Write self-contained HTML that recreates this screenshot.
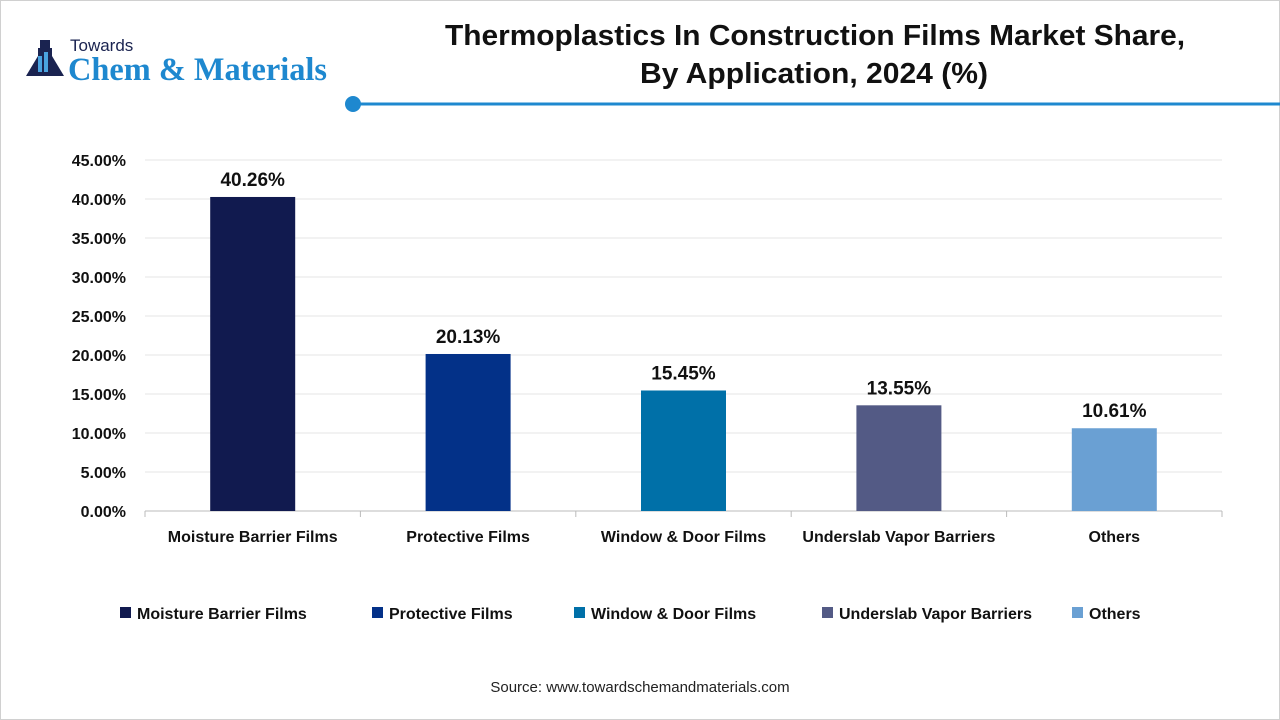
<!DOCTYPE html>
<html><head><meta charset="utf-8"><style>
body{margin:0;width:1280px;height:720px;background:#fff;font-family:"Liberation Sans",sans-serif;overflow:hidden}
#frame{position:absolute;left:0;top:0;width:1278px;height:718px;border:1px solid #d0d0d0}
</style></head><body>
<div id="frame"></div>
<svg width="1280" height="720" style="position:absolute;left:0;top:0" id="svg">
<g>
<rect x="40" y="40" width="10" height="8" fill="#1a2350"/>
<path d="M38 48 h14 v8 l12 20 h-38 l12 -20z" fill="#1a2350"/>
<rect x="38" y="56" width="4" height="16" fill="#4aa3df"/>
<rect x="44" y="52" width="4" height="20" fill="#4aa3df"/>
<text x="70" y="51" font-size="17" fill="#1a2350">Towards</text>
<text x="68" y="80" font-size="33" font-family="Liberation Serif,serif" font-weight="bold" fill="#1e88cf" textLength="259" lengthAdjust="spacingAndGlyphs">Chem &amp; Materials</text>
</g>
<text x="815" y="45" font-size="29" font-weight="bold" text-anchor="middle" fill="#111" textLength="740" lengthAdjust="spacingAndGlyphs">Thermoplastics In Construction Films Market Share,</text>
<text x="814" y="83" font-size="29" font-weight="bold" text-anchor="middle" fill="#111" textLength="348" lengthAdjust="spacingAndGlyphs">By Application, 2024 (%)</text>
<circle cx="353" cy="104" r="8" fill="#1e88cf"/>
<rect x="353" y="102.5" width="927" height="3" fill="#1e88cf"/>
<g id="grid"></g><g id="bars"></g><g id="legend"></g>
<text x="640" y="692" font-size="15" text-anchor="middle" fill="#222">Source: www.towardschemandmaterials.com</text>
</svg>
<script>
const categories=["Moisture Barrier Films","Protective Films","Window & Door Films","Underslab Vapor Barriers","Others"];
const values=[40.26,20.13,15.45,13.55,10.61];
const colors=["#111a4f","#033188","#0070a8","#535a85","#6aa0d3"];
const ticks=[0,5,10,15,20,25,30,35,40,45];
const NS="http://www.w3.org/2000/svg";
const x0=145,x1=1222,y0=511,yTop=160,ymax=45;
const y=v=>y0-(v/ymax)*(y0-yTop);
const band=(x1-x0)/categories.length;
const xc=i=>x0+band*(i+0.5);
function mk(t,a,p){const e=document.createElementNS(NS,t);for(const k in a)e.setAttribute(k,a[k]);p.appendChild(e);return e;}
const g=document.getElementById('grid'),b=document.getElementById('bars'),lg=document.getElementById('legend');
ticks.forEach(t=>{
 if(t>0){const l=mk('line',{x1:x0,x2:x1,y1:y(t),y2:y(t),stroke:'#e6e6e6'},g);
 
 }
 const tx=mk('text',{x:126,y:y(t)+6,'font-size':16,'font-weight':'bold','text-anchor':'end',fill:'#111'},g);
 tx.textContent=t.toFixed(2)+'%';
 
 
});
const ax=mk('line',{x1:x0,x2:x1,y1:y0,y2:y0,stroke:'#bbb'},g);


for(let i=0;i<=categories.length;i++){const tk=mk('line',{x1:x0+band*i,x2:x0+band*i,y1:y0,y2:y0+6,stroke:'#bbb'},g);
 
 }
const legX=[120,372,574,822,1072];
categories.forEach((c,i)=>{
 const r=mk('rect',{x:xc(i)-42.5,y:y(values[i]),width:85,height:y0-y(values[i]),fill:colors[i]},b);
 
 
 const v=mk('text',{x:xc(i),y:y(values[i])-11,'font-size':19,'font-weight':'bold','text-anchor':'middle',fill:'#111'},b);
 v.textContent=values[i].toFixed(2)+'%';
 
 
 const cl=mk('text',{x:xc(i),y:542,'font-size':16,'font-weight':'bold','text-anchor':'middle',fill:'#111'},b);
 cl.textContent=c;
 
 
 const ls=mk('rect',{x:legX[i],y:607,width:11,height:11,fill:colors[i]},lg);
 
 
 const lt=mk('text',{x:legX[i]+17,y:619,'font-size':16,'font-weight':'bold',fill:'#111'},lg);
 lt.textContent=c;
 
 
});
</script>
</body></html>
